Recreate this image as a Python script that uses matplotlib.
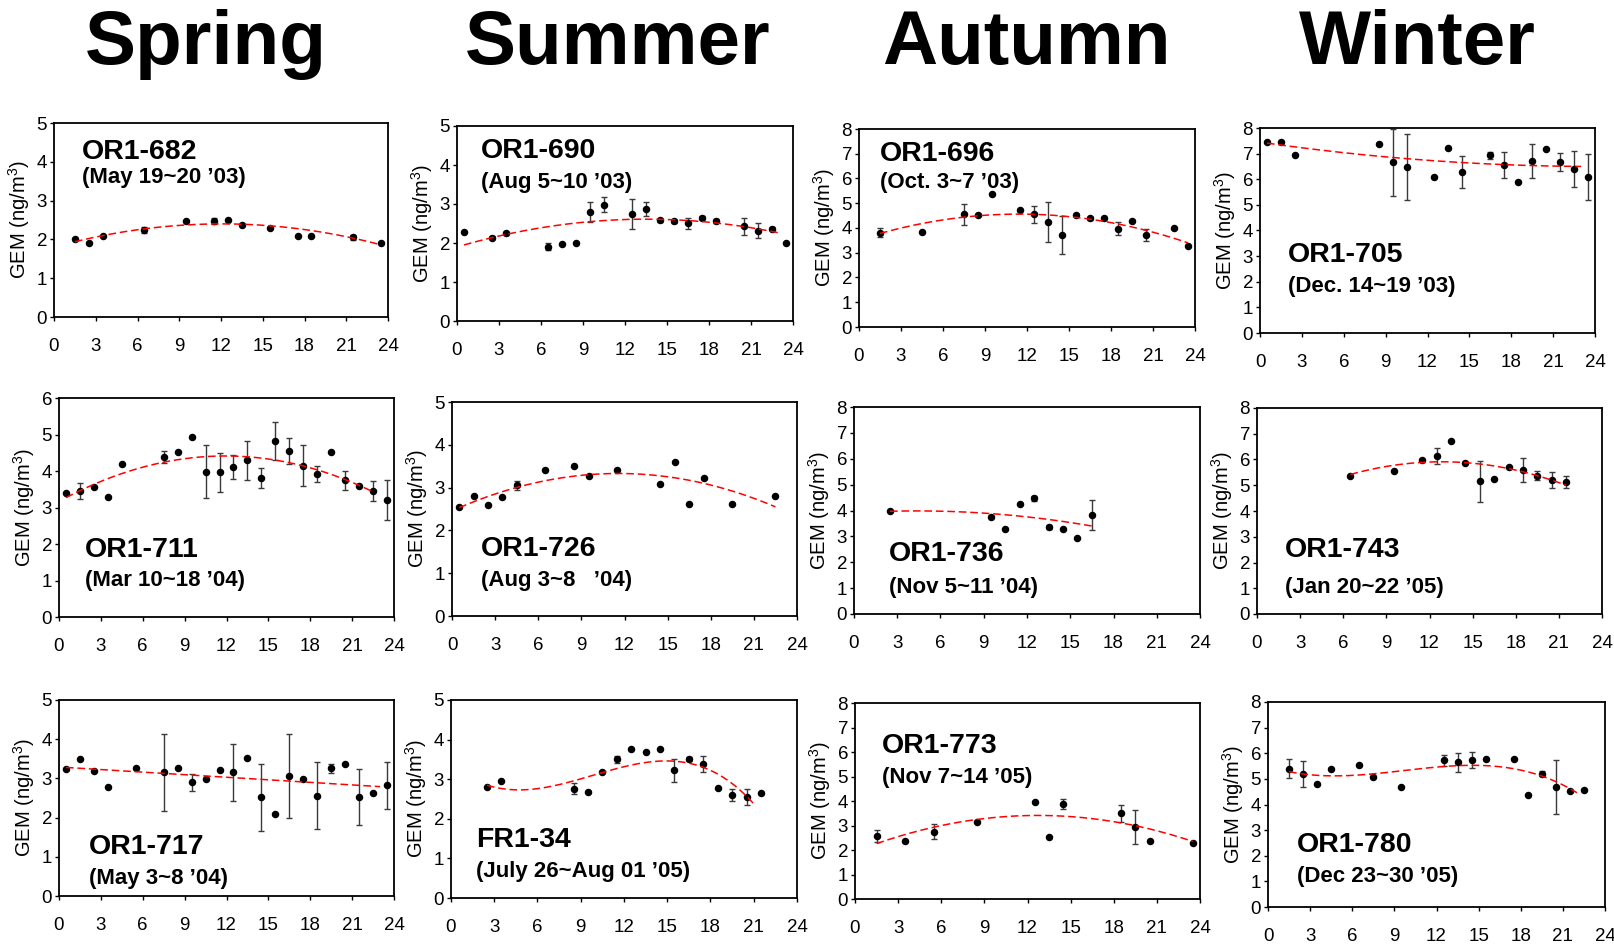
import numpy as np
import matplotlib
matplotlib.use("Agg")
import matplotlib.pyplot as plt

plt.rcParams['font.family'] = ['Liberation Sans', 'DejaVu Sans']
plt.rcParams['mathtext.default'] = 'regular'

W, H = 1614, 947

seasons = ["Spring", "Summer", "Autumn", "Winter"]

# ---------------- data (hour of day, GEM ng/m3, error) ----------------
# OR1-682
x_682 = [1.5, 2.5, 3.5, 6.5, 9.5, 11.5, 12.5, 13.5, 15.5, 17.5, 18.5, 21.5, 23.5]
y_682 = [2.00, 1.90, 2.10, 2.24, 2.47, 2.48, 2.50, 2.36, 2.29, 2.09, 2.09, 2.05, 1.90]
e_682 = [0, 0, 0, 0.07, 0, 0.08, 0, 0, 0, 0, 0, 0.06, 0]
fx_682 = [1.5, 12.0, 23.5]
fy_682 = [1.94, 2.40, 1.86]

# OR1-690
x_690 = [0.5, 2.5, 3.5, 6.5, 7.5, 8.5, 9.5, 10.5, 12.5, 13.5, 14.5, 15.5, 16.5, 17.5, 18.5, 20.5, 21.5, 22.5, 23.5]
y_690 = [2.29, 2.14, 2.25, 1.91, 1.97, 1.99, 2.80, 2.98, 2.75, 2.86, 2.58, 2.56, 2.50, 2.65, 2.57, 2.43, 2.32, 2.37, 1.99]
e_690 = [0, 0.04, 0.04, 0.10, 0, 0, 0.26, 0.19, 0.39, 0.18, 0.04, 0.04, 0.13, 0.04, 0.05, 0.22, 0.19, 0.04, 0]
fx_690 = [0.5, 13.0, 23.0]
fy_690 = [1.95, 2.61, 2.26]

# OR1-696
x_696 = [1.5, 4.5, 7.5, 8.5, 9.5, 11.5, 12.5, 13.5, 14.5, 15.5, 16.5, 17.5, 18.5, 19.5, 20.5, 22.5, 23.5]
y_696 = [3.81, 3.82, 4.56, 4.52, 5.37, 4.72, 4.56, 4.25, 3.71, 4.53, 4.39, 4.41, 3.97, 4.28, 3.71, 4.02, 3.27]
e_696 = [0.19, 0, 0.42, 0.05, 0, 0, 0.34, 0.80, 0.78, 0.05, 0.05, 0.04, 0.26, 0.04, 0.24, 0, 0]
fx_696 = [1.5, 11.0, 23.5]
fy_696 = [3.78, 4.56, 3.40]

# OR1-705
x_705 = [0.5, 1.5, 2.5, 8.5, 9.5, 10.5, 12.5, 13.5, 14.5, 16.5, 17.5, 18.5, 19.5, 20.5, 21.5, 22.5, 23.5]
y_705 = [7.44, 7.45, 6.96, 7.39, 6.66, 6.48, 6.09, 7.22, 6.28, 6.93, 6.55, 5.88, 6.70, 7.19, 6.67, 6.40, 6.09]
e_705 = [0, 0, 0, 0, 1.30, 1.28, 0.05, 0, 0.64, 0.15, 0.52, 0, 0.67, 0, 0.34, 0.70, 0.89]
fx_705 = [0.5, 12.0, 23.0]
fy_705 = [7.41, 6.74, 6.50]

# OR1-711
x_711 = [0.5, 1.5, 2.5, 3.5, 4.5, 7.5, 8.5, 9.5, 10.5, 11.5, 12.5, 13.5, 14.5, 15.5, 16.5, 17.5, 18.5, 19.5, 20.5, 21.5, 22.5, 23.5]
y_711 = [3.39, 3.45, 3.57, 3.28, 4.18, 4.39, 4.51, 4.92, 3.98, 3.96, 4.11, 4.29, 3.80, 4.81, 4.54, 4.15, 3.92, 4.51, 3.75, 3.58, 3.46, 3.20]
e_711 = [0, 0.21, 0, 0, 0, 0.17, 0, 0, 0.73, 0.53, 0.33, 0.54, 0.27, 0.52, 0.36, 0.57, 0.21, 0, 0.26, 0, 0.27, 0.55]
fx_711 = [0.5, 11.5, 22.5]
fy_711 = [3.27, 4.41, 3.43]

# OR1-726
x_726 = [0.5, 1.5, 2.5, 3.5, 4.5, 6.5, 8.5, 9.5, 11.5, 14.5, 15.5, 16.5, 17.5, 19.5, 22.5]
y_726 = [2.55, 2.80, 2.59, 2.78, 3.05, 3.42, 3.50, 3.26, 3.40, 3.08, 3.60, 2.62, 3.23, 2.61, 2.80]
e_726 = [0, 0, 0, 0, 0.10, 0, 0, 0, 0, 0, 0, 0, 0, 0, 0]
fx_726 = [0.5, 11.5, 22.5]
fy_726 = [2.53, 3.33, 2.55]

# OR1-736
x_736 = [2.5, 9.5, 10.5, 11.5, 12.5, 13.5, 14.5, 15.5, 16.5]
y_736 = [3.98, 3.76, 3.29, 4.27, 4.47, 3.36, 3.29, 2.94, 3.83]
e_736 = [0, 0, 0, 0, 0.10, 0.08, 0, 0, 0.58]
fx_736 = [2.5, 9.5, 16.5]
fy_736 = [3.97, 3.88, 3.40]

# OR1-743
x_743 = [6.5, 9.5, 11.5, 12.5, 13.5, 14.5, 15.5, 16.5, 17.5, 18.5, 19.5, 20.5, 21.5]
y_743 = [5.37, 5.56, 5.97, 6.14, 6.72, 5.87, 5.16, 5.25, 5.72, 5.59, 5.37, 5.19, 5.12]
e_743 = [0, 0, 0, 0.31, 0, 0, 0.80, 0, 0, 0.45, 0.18, 0.31, 0.23]
fx_743 = [6.5, 12.5, 21.5]
fy_743 = [5.42, 5.91, 5.00]

# OR1-717
x_717 = [0.5, 1.5, 2.5, 3.5, 5.5, 7.5, 8.5, 9.5, 10.5, 11.5, 12.5, 13.5, 14.5, 15.5, 16.5, 17.5, 18.5, 19.5, 20.5, 21.5, 22.5, 23.5]
y_717 = [3.23, 3.49, 3.19, 2.78, 3.26, 3.16, 3.27, 2.90, 2.98, 3.21, 3.16, 3.51, 2.52, 2.08, 3.06, 2.99, 2.56, 3.26, 3.37, 2.53, 2.62, 2.83]
e_717 = [0, 0, 0, 0, 0, 0.98, 0, 0.22, 0, 0, 0.73, 0, 0.86, 0, 1.08, 0, 0.86, 0.11, 0, 0.71, 0, 0.60]
fx_717 = [0.5, 23.0]
fy_717 = [3.28, 2.79]

# FR1-34
x_fr34 = [2.5, 3.5, 8.5, 9.5, 10.5, 11.5, 12.5, 13.5, 14.5, 15.5, 16.5, 17.5, 18.5, 19.5, 20.5, 21.5]
y_fr34 = [2.80, 2.95, 2.76, 2.68, 3.19, 3.50, 3.76, 3.68, 3.76, 3.22, 3.51, 3.38, 2.78, 2.60, 2.54, 2.64]
e_fr34 = [0, 0, 0.14, 0, 0, 0.08, 0, 0, 0, 0.30, 0.06, 0.20, 0, 0.16, 0.20, 0]
fx_fr34 = [2.5, 4.5, 9.0, 12.0, 14.7, 17.5, 21.0]
fy_fr34 = [2.83, 2.77, 2.97, 3.32, 3.49, 3.28, 2.38]

# OR1-773
x_773 = [1.5, 3.5, 5.5, 8.5, 12.5, 13.5, 14.5, 18.5, 19.5, 20.5, 23.5]
y_773 = [2.56, 2.38, 2.75, 3.13, 3.95, 2.53, 3.89, 3.50, 2.94, 2.38, 2.30]
e_773 = [0.24, 0, 0.30, 0, 0, 0, 0.21, 0.35, 0.71, 0, 0]
fx_773 = [1.5, 13.0, 23.5]
fy_773 = [2.26, 3.41, 2.35]

# OR1-780
x_780 = [1.5, 2.5, 3.5, 4.5, 6.5, 7.5, 9.5, 12.5, 13.5, 14.5, 15.5, 17.5, 18.5, 19.5, 20.5, 21.5, 22.5]
y_780 = [5.40, 5.19, 4.79, 5.38, 5.54, 5.08, 4.70, 5.73, 5.64, 5.73, 5.77, 5.77, 4.36, 5.20, 4.67, 4.53, 4.57]
e_780 = [0.38, 0.50, 0, 0, 0, 0, 0, 0.22, 0.37, 0.32, 0, 0, 0, 0.10, 1.05, 0, 0]
fx_780 = [1.5, 4.5, 9.0, 13.0, 15.0, 18.0, 22.0]
fy_780 = [5.28, 5.12, 5.28, 5.50, 5.53, 5.34, 4.46]

labels = ["OR1-682", "OR1-690", "OR1-696", "OR1-705",
          "OR1-711", "OR1-726", "OR1-736", "OR1-743",
          "OR1-717", "FR1-34", "OR1-773", "OR1-780"]
dates = ["(May 19~20 \u201903)", "(Aug 5~10 \u201903)", "(Oct. 3~7 \u201903)", "(Dec. 14~19 \u201903)",
         "(Mar 10~18 \u201904)", "(Aug 3~8   \u201904)", "(Nov 5~11 \u201904)", "(Jan 20~22 \u201905)",
         "(May 3~8 \u201904)", "(July 26~Aug 01 \u201905)", "(Nov 7~14 \u201905)", "(Dec 23~30 \u201905)"]
ymax = [5, 5, 8, 8,
        6, 5, 8, 8,
        5, 5, 8, 8]
xs = [x_682, x_690, x_696, x_705, x_711, x_726, x_736, x_743, x_717, x_fr34, x_773, x_780]
ys = [y_682, y_690, y_696, y_705, y_711, y_726, y_736, y_743, y_717, y_fr34, y_773, y_780]
es = [e_682, e_690, e_696, e_705, e_711, e_726, e_736, e_743, e_717, e_fr34, e_773, e_780]
fxs = [fx_682, fx_690, fx_696, fx_705, fx_711, fx_726, fx_736, fx_743, fx_717, fx_fr34, fx_773, fx_780]
fys = [fy_682, fy_690, fy_696, fy_705, fy_711, fy_726, fy_736, fy_743, fy_717, fy_fr34, fy_773, fy_780]
fit_deg = [2, 2, 2, 2, 2, 2, 2, 2, 1, 3, 2, 3]
xticks = [0, 3, 6, 9, 12, 15, 18, 21, 24]

# ---------------- layout (pixel boxes: left, top, right, bottom) ----------------
boxes = [(54, 123, 388, 317), (457, 126, 793, 321), (859, 129, 1195, 327), (1260, 128, 1595, 333),
         (59, 398, 394, 617), (452, 402, 797, 616), (854, 407, 1200, 614), (1257, 408, 1602, 614),
         (59, 700, 394, 896), (451, 700, 797, 898), (855, 703, 1200, 899), (1268, 702, 1605, 907)]
lab_pos = [(0.084, 0.814, 0.69), (0.071, 0.836, 0.68), (0.0625, 0.84, 0.70), (0.084, 0.346, 0.20),
           (0.078, 0.274, 0.14), (0.084, 0.28, 0.14), (0.10, 0.256, 0.10), (0.081, 0.277, 0.10),
           (0.09, 0.214, 0.06), (0.072, 0.258, 0.106), (0.078, 0.745, 0.59), (0.086, 0.268, 0.12)]
title_x = [206, 618, 1026, 1417]

fig = plt.figure(figsize=(W / 100, H / 100), dpi=100)
fig.patch.set_facecolor('white')

tick_font = ['Liberation Sans Narrow', 'Liberation Sans', 'DejaVu Sans']

for i in range(12):
    l, t, r, b = boxes[i]
    ax = fig.add_axes([l / W, 1 - b / H, (r - l) / W, (b - t) / H])
    x = np.array(xs[i]); y = np.array(ys[i]); e = np.array(es[i])
    m = e > 0
    ax.errorbar(x[m], y[m], yerr=e[m], fmt='none', ecolor='#3a3a3a', elinewidth=1.0,
                capsize=2.2, capthick=1.0, zorder=2)
    ax.plot(x, y, 'o', color='black', markersize=4.4, zorder=3)
    c = np.polyfit(fxs[i], fys[i], fit_deg[i])
    xx = np.linspace(fxs[i][0], fxs[i][-1], 200)
    ax.plot(xx, np.polyval(c, xx), color='#ff0000', lw=1.1, ls=(0, (5, 2.5)), zorder=4)

    ax.set_xlim(0, 24)
    ax.set_ylim(0, ymax[i])
    ax.set_xticks(xticks)
    ax.set_yticks(range(0, ymax[i] + 1))
    ax.tick_params(direction='out', length=3, width=1, colors='black')
    ax.tick_params(axis='x', pad=12)
    ax.tick_params(axis='y', pad=2)
    for lab in ax.get_xticklabels() + ax.get_yticklabels():
        lab.set_family(tick_font)
        lab.set_fontsize(13.5)
    for s in ax.spines.values():
        s.set_linewidth(1.3)
        s.set_color('black')
    ax.set_ylabel('GEM (ng/m$^3$)', fontsize=14.5, labelpad=3)

    lx, ly1, ly2 = lab_pos[i]
    ax.text(lx, ly1, labels[i], transform=ax.transAxes, fontsize=20.5, fontweight='bold',
            va='baseline', ha='left')
    ax.text(lx, ly2, dates[i], transform=ax.transAxes, fontsize=16, fontweight='bold',
            va='baseline', ha='left')

for j in range(4):
    fig.text(title_x[j] / W, 1 - 64 / H, seasons[j], fontsize=55, fontweight='bold',
             ha='center', va='baseline')

fig.savefig('out.png', dpi=100, facecolor='white')
